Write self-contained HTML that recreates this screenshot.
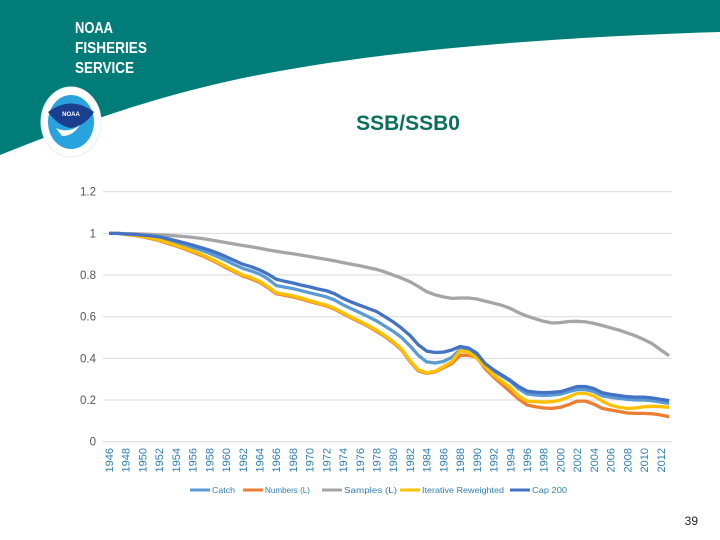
<!DOCTYPE html>
<html><head><meta charset="utf-8"><style>
body{margin:0;width:720px;height:540px;overflow:hidden;background:#fff;font-family:"Liberation Sans",sans-serif}
svg{display:block}
</style></head><body>
<svg width="720" height="540" viewBox="0 0 720 540">
<path d="M0 0H720V32C520 38 330 55 200 88C120 108 50 135 0 155Z" fill="#007d78"/>
<g fill="#fff" font-weight="bold" font-size="16" style="font-family:'Liberation Sans Narrow','Liberation Sans',sans-serif">
<text x="75" y="33" textLength="38" lengthAdjust="spacingAndGlyphs">NOAA</text>
<text x="75" y="53" textLength="72" lengthAdjust="spacingAndGlyphs">FISHERIES</text>
<text x="75" y="73" textLength="59" lengthAdjust="spacingAndGlyphs">SERVICE</text>
</g>
<g>
<ellipse cx="71" cy="122" rx="30" ry="35" fill="#fff" stroke="#e8eef5" stroke-width="1"/>
<ellipse cx="71" cy="122" rx="23" ry="27" fill="#29a3dd"/>
<path d="M48 112Q71 95 94 112Q85 126 71 128Q58 126 48 112Z" fill="#1b3f8f"/>
<text x="71" y="116" font-size="6" font-weight="bold" fill="#fff" text-anchor="middle">NOAA</text>
<path d="M56 128Q68 134 80 125Q73 136 62 136Z" fill="#fff"/>
</g>
<text x="408" y="130" font-size="21" font-weight="bold" fill="#0b6f5e" text-anchor="middle">SSB/SSB0</text>
<g id="grid"></g>
<g id="ylabels" font-size="11.5" fill="#555"></g>
<g id="xlabels" font-size="11" fill="#2f7fb0"></g>
<g id="series"></g>
<g id="legend" font-size="8.5" fill="#2f7fb0"></g>
<text x="698" y="525" font-size="12" fill="#222" text-anchor="end">39</text>
</svg>
<script>
const years=[];for(let y=1946;y<=2013;y++)years.push(y);
const yTicks=[0,0.2,0.4,0.6,0.8,1,1.2];
const yTickLabels=["0","0.2","0.4","0.6","0.8","1","1.2"];
const seriesNames=["Catch","Numbers (L)","Samples (L)","Iterative Reweighted","Cap 200"];
const catchVals=[1.0,1.0,0.997,0.994,0.99,0.985,0.978,0.968,0.957,0.946,
0.933,0.92,0.905,0.888,0.87,0.85,0.832,0.82,0.805,0.782,
0.75,0.742,0.735,0.725,0.715,0.705,0.695,0.68,0.657,0.638,
0.62,0.6,0.58,0.555,0.53,0.5,0.46,0.415,0.383,0.378,
0.385,0.405,0.443,0.44,0.42,0.37,0.34,0.315,0.29,0.255,
0.229,0.224,0.222,0.224,0.228,0.24,0.25,0.25,0.24,0.22,
0.213,0.208,0.203,0.2,0.2,0.197,0.19,0.184];
const numbersVals=[1.0,1.0,0.995,0.99,0.983,0.975,0.965,0.952,0.94,0.926,
0.91,0.895,0.877,0.857,0.835,0.815,0.795,0.782,0.765,0.74,
0.71,0.703,0.695,0.685,0.673,0.662,0.652,0.636,0.614,0.594,
0.574,0.554,0.53,0.505,0.475,0.44,0.385,0.34,0.328,0.335,
0.355,0.375,0.415,0.415,0.405,0.35,0.31,0.275,0.24,0.205,
0.176,0.168,0.162,0.16,0.165,0.178,0.195,0.195,0.18,0.16,
0.152,0.145,0.138,0.136,0.136,0.134,0.128,0.12];
const samplesVals=[1.0,1.0,0.999,0.998,0.997,0.995,0.993,0.991,0.988,0.985,
0.981,0.976,0.97,0.963,0.956,0.949,0.942,0.936,0.929,0.921,
0.914,0.908,0.902,0.896,0.889,0.882,0.875,0.868,0.86,0.852,
0.845,0.836,0.827,0.815,0.8,0.785,0.768,0.745,0.72,0.705,
0.695,0.688,0.69,0.69,0.685,0.675,0.665,0.655,0.64,0.62,
0.603,0.59,0.578,0.57,0.572,0.577,0.578,0.575,0.568,0.558,
0.547,0.536,0.522,0.508,0.49,0.47,0.44,0.413];
const iterativeVals=[1.0,1.0,0.996,0.992,0.985,0.978,0.968,0.956,0.943,0.93,
0.915,0.9,0.882,0.862,0.84,0.82,0.8,0.788,0.77,0.745,
0.715,0.708,0.7,0.69,0.678,0.666,0.656,0.64,0.618,0.598,
0.578,0.558,0.535,0.51,0.48,0.445,0.39,0.345,0.331,0.338,
0.36,0.385,0.437,0.43,0.4,0.36,0.32,0.29,0.26,0.22,
0.195,0.192,0.19,0.192,0.2,0.215,0.232,0.232,0.22,0.195,
0.175,0.165,0.16,0.162,0.168,0.17,0.168,0.165];
const cap200Vals=[1.0,1.0,0.997,0.995,0.992,0.988,0.983,0.975,0.965,0.955,
0.944,0.932,0.92,0.905,0.888,0.87,0.852,0.84,0.825,0.805,
0.78,0.77,0.762,0.752,0.743,0.733,0.725,0.71,0.688,0.67,
0.655,0.64,0.625,0.6,0.575,0.545,0.51,0.465,0.435,0.428,
0.43,0.44,0.457,0.45,0.425,0.375,0.345,0.32,0.295,0.265,
0.243,0.238,0.235,0.237,0.24,0.252,0.265,0.265,0.255,0.235,
0.227,0.222,0.216,0.214,0.214,0.21,0.203,0.198];

const NS="http://www.w3.org/2000/svg";
const X0=109,DX=8.36,Y0=441.7,YH=208.3;
function xS(i){return X0+i*DX;}
function yS(v){return Y0-v*YH;}
function mk(tag,parent){const e=document.createElementNS(NS,tag);document.getElementById(parent).appendChild(e);return e;}
yTicks.forEach((t,i)=>{
  const l=mk('line','grid');
  
  
  l.setAttribute('x1',103);l.setAttribute('x2',672);l.setAttribute('y1',yS(t));l.setAttribute('y2',yS(t));
  l.setAttribute('stroke','#d9d9d9');l.setAttribute('stroke-width','1');
  const tx=mk('text','ylabels');
  
  
  tx.setAttribute('x',96);tx.setAttribute('y',yS(t)+4);tx.setAttribute('text-anchor','end');
  tx.textContent=yTickLabels[i];
});
years.forEach((y,i)=>{
  if((y-1946)%2!==0)return;
  const tx=mk('text','xlabels');
  
  
  const x=xS(i)+4,yy=448;
  tx.setAttribute('transform','translate('+x+','+yy+') rotate(-90)');
  tx.setAttribute('text-anchor','end');
  tx.textContent=String(y);
});
const allVals=[catchVals,numbersVals,samplesVals,iterativeVals,cap200Vals];
const colors=["#5b9bd5","#ed7d31","#a5a5a5","#ffc000","#4472c4"];
const names=["series-catch","series-numbers","series-samples","series-iterative-reweighted","series-cap-200"];
allVals.forEach((vals,s)=>{
  const p=mk('path','series');
  
  
  p.setAttribute('d',vals.map((v,i)=>(i?'L':'M')+xS(i).toFixed(1)+' '+yS(v).toFixed(1)).join(''));
  p.setAttribute('fill','none');p.setAttribute('stroke',colors[s]);p.setAttribute('stroke-width','3.3');
  p.setAttribute('stroke-linejoin','round');
});
const legX=[190,243,322,400,510];
const legW=[23,45,53,82,35];
seriesNames.forEach((n,s)=>{
  const l=mk('line','legend');
  
  
  l.setAttribute('x1',legX[s]);l.setAttribute('x2',legX[s]+20);l.setAttribute('y1',490);l.setAttribute('y2',490);
  l.setAttribute('stroke',colors[s]);l.setAttribute('stroke-width','3');
  const t=mk('text','legend');
  
  
  t.setAttribute('x',legX[s]+22);t.setAttribute('y',493);
  t.setAttribute('textLength',legW[s]);t.setAttribute('lengthAdjust','spacingAndGlyphs');
  t.textContent=n;
});
</script>
</body></html>
